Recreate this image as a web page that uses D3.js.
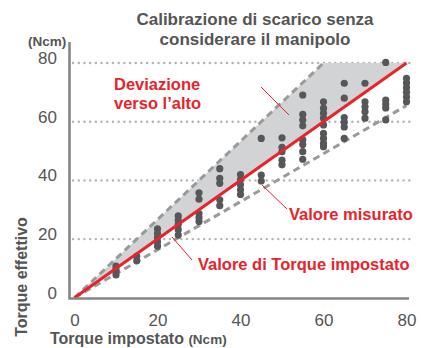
<!DOCTYPE html>
<html>
<head>
<meta charset="utf-8">
<script src="https://cdn.jsdelivr.net/npm/d3@7/dist/d3.min.js"></script>
<style>
  html, body { margin: 0; padding: 0; background: #fff; }
  svg { display: block; font-family: "Liberation Sans", Arial, Helvetica, sans-serif; }
</style>
</head>
<body>
<svg id="chart" width="421" height="348"></svg>
<script>
// Set torque (Ncm) for each measured column
const setTorque = [10, 15, 20, 25, 30, 35, 40, 45, 50, 55, 60, 65, 70, 75, 80];
// Effective torque readings (Ncm) for each set torque
const effectiveTorque = [
  [10.8, 9.8, 8.8, 7.8],
  [14.1, 12.6],
  [23.5, 22, 20.5, 19, 17.6],
  [27.9, 26.4, 25, 23.2, 21.4],
  [35.8, 33.6, 28.7, 27.3, 26],
  [44, 40.7, 39, 33.4, 31.4],
  [42, 40.3, 38.5, 36.8, 35.2],
  [54.3, 41.8, 39.8],
  [54.5, 51.3, 49.8, 46.9, 45.3],
  [69.1, 62.5, 60.6, 58.6, 53.8, 52.2, 49.8, 47.2],
  [66.8, 64.6, 62.9, 61.2, 58.9, 56, 54.3, 52.6, 51.5],
  [73.1, 68, 61.4, 59.8, 58.2, 54.3],
  [73.1, 66.8, 65.1, 63.4, 61.2],
  [80.2, 67.4, 66, 64.7, 60.6],
  [74.8, 73.2, 71.6, 70, 68.4, 66.8]
];
// Reference lines
const nominalLine = [[0, 0], [80, 80]];
const upperLimit = [[0, 0], [60, 80]];
const lowerLimit = [[0, 0], [80, 65.5]];
const cap = 80;
// Axis ticks
const xTicks = [0, 20, 40, 60, 80];
const yTicks = [0, 20, 40, 60, 80];
const gridValues = [20, 40, 60, 80];

const titleLines = ["Calibrazione di scarico senza", "considerare il manipolo"];

const RED = "#e8232b";
const TEXT = "#555555";

const svg = d3.select("#chart");
const x = d3.scaleLinear().domain([0, 80]).range([74.5, 406.5]);
const y = d3.scaleLinear().domain([0, 80]).range([297.8, 63]);

// dotted gridlines
svg.append("g").selectAll("line").data(gridValues).join("line")
  .attr("x1", 73).attr("x2", 410)
  .attr("y1", d => y(d)).attr("y2", d => y(d))
  .attr("stroke", "#b3b3b3").attr("stroke-width", 2.4)
  .attr("stroke-linecap", "round").attr("stroke-dasharray", "0.1 5.6");

const line = d3.line().x(d => x(d[0])).y(d => y(d[1]));

// shaded upward-deviation band
const band = upperLimit.concat([[80, cap]], nominalLine.slice().reverse());
svg.append("path").attr("d", line(band) + "Z")
  .attr("fill", "#d2d3d5");

// tolerance limits
[upperLimit, lowerLimit].forEach(l => {
  svg.append("path").attr("d", line(l))
    .attr("fill", "none").attr("stroke", "#9a9a9a")
    .attr("stroke-width", 3).attr("stroke-dasharray", "7 4.5");
});

// measured points
const points = [];
setTorque.forEach((s, i) => effectiveTorque[i].forEach(v => points.push([s, v])));
svg.append("g").selectAll("circle").data(points).join("circle")
  .attr("cx", d => x(d[0])).attr("cy", d => y(d[1])).attr("r", 3.6)
  .attr("fill", "#555759");

// nominal line
svg.append("path").attr("d", line(nominalLine))
  .attr("fill", "none").attr("stroke", RED).attr("stroke-width", 3);

// axes
const yAxis = d3.axisLeft(y).tickValues(yTicks).tickSize(0).tickPadding(12.5);
const gy = svg.append("g").attr("transform", "translate(69.5,0)").call(yAxis);
gy.select(".domain").remove();
gy.selectAll("text").attr("font-size", 17).attr("fill", TEXT)
  .attr("font-family", "Liberation Sans, Arial, sans-serif").attr("dy", "0.02em");

const xAxis = d3.axisBottom(x).tickValues(xTicks).tickSize(0).tickPadding(15);
const gx = svg.append("g").attr("transform", "translate(0,298.5)").call(xAxis);
gx.select(".domain").remove();
gx.selectAll("text").attr("font-size", 17).attr("fill", TEXT)
  .attr("font-family", "Liberation Sans, Arial, sans-serif");

svg.append("path").attr("d", "M69.5,42V298.5H409")
  .attr("fill", "none").attr("stroke", "#858585").attr("stroke-width", 2.6);

// title
svg.append("text").attr("x", 255).attr("y", 24.5).attr("text-anchor", "middle")
  .attr("font-size", 17).attr("font-weight", "bold").attr("fill", TEXT)
  .selectAll("tspan").data(titleLines).join("tspan")
  .attr("x", 255).attr("dy", (d, i) => i ? 20 : 0).text(d => d);

// axis titles
svg.append("text").attr("x", 28).attr("y", 46)
  .attr("font-size", 13.5).attr("font-weight", "bold").attr("fill", TEXT).text("(Ncm)");

const xt = svg.append("text").attr("x", 50).attr("y", 344)
  .attr("font-size", 16).attr("font-weight", "bold").attr("fill", TEXT);
xt.append("tspan").text("Torque impostato ");
xt.append("tspan").attr("font-size", 13.5).text("(Ncm)");

svg.append("text").attr("transform", "translate(27,277) rotate(-90)")
  .attr("text-anchor", "middle")
  .attr("font-size", 16).attr("font-weight", "bold").attr("fill", TEXT)
  .text("Torque effettivo");

// annotations
const notes = [
  { lines: ["Deviazione", "verso l\u2019alto"], tx: 114, ty: 90, from: [261, 87], to: [289, 115] },
  { lines: ["Valore misurato"], tx: 289, ty: 220, from: [262, 185], to: [287, 209] },
  { lines: ["Valore di Torque impostato"], tx: 198, ty: 270, from: [172, 237], to: [192, 260] }
];
notes.forEach(n => {
  svg.append("line")
    .attr("x1", n.from[0]).attr("y1", n.from[1]).attr("x2", n.to[0]).attr("y2", n.to[1])
    .attr("stroke", RED).attr("stroke-width", 1);
  svg.append("text").attr("x", n.tx).attr("y", n.ty)
    .attr("font-size", 16.5).attr("font-weight", "bold").attr("fill", RED)
    .selectAll("tspan").data(n.lines).join("tspan")
    .attr("x", n.tx).attr("dy", (d, i) => i ? 18.5 : 0).text(d => d);
});
</script>
</body>
</html>
